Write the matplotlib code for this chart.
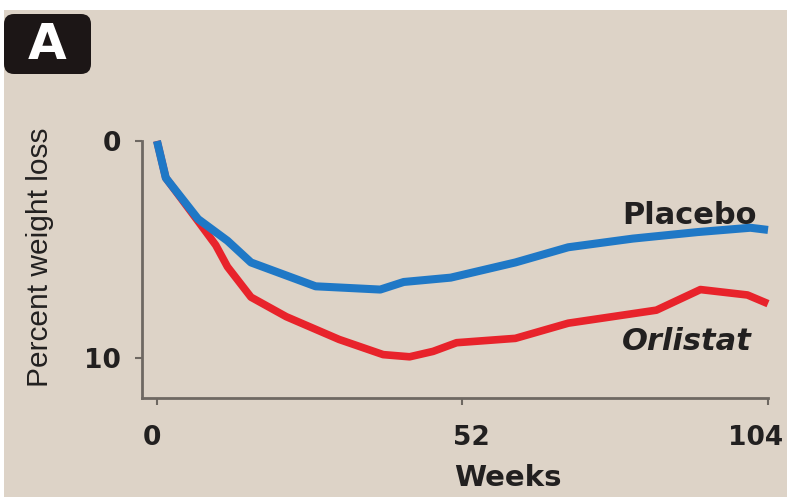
import matplotlib
matplotlib.use("Agg")
import matplotlib.pyplot as plt
from matplotlib.patches import FancyBboxPatch, Rectangle
from matplotlib.transforms import ScaledTranslation

# ---- data ----
placebo_weeks = [0, 1.5, 7, 12, 16, 21, 27, 38, 42, 50, 61, 70, 81, 92, 101, 104]
placebo_loss = [0, 1.7, 3.6, 4.6, 5.6, 6.1, 6.7, 6.85, 6.5, 6.3, 5.6, 4.9, 4.5, 4.2, 4.0, 4.1]
orlistat_weeks = [0, 1.5, 7, 10, 12, 16, 22, 31, 38.5, 43, 47, 51, 61, 70, 85, 92.5, 100.5, 104]
orlistat_loss = [0, 1.7, 3.7, 4.8, 5.8, 7.2, 8.1, 9.15, 9.85, 9.95, 9.7, 9.3, 9.1, 8.4, 7.8, 6.85, 7.1, 7.5]
x_ticks = [0, 52, 104]
y_ticks = [0, 10]

BG = "#ddd3c7"
BLUE = "#1f78c6"
RED = "#e8232b"
SPINE = "#6e6862"
TXT = "#222020"

fig = plt.figure(figsize=(7.87, 4.97), dpi=100)
fig.patch.set_facecolor("white")
# beige panel (white strip at top and left)
fig.patches.append(Rectangle((4 / 787, 0), 1 - 4 / 787, (497 - 10) / 497,
                             transform=fig.transFigure, facecolor=BG,
                             edgecolor="none", zorder=-10))

ax = fig.add_axes([142 / 787, (497 - 398) / 497, (768 - 142) / 787, (398 - 141) / 497])
ax.set_facecolor("none")

ax.plot(placebo_weeks, placebo_loss, color=BLUE, lw=5.8, solid_capstyle="butt",
        solid_joinstyle="round", clip_on=False, zorder=3)
ax.plot(orlistat_weeks, orlistat_loss, color=RED, lw=5.5, solid_capstyle="butt",
        solid_joinstyle="round", clip_on=False, zorder=2)

ax.set_xlim(-2.55, 104)
ax.set_ylim(11.85, 0)

for s in ["top", "right"]:
    ax.spines[s].set_visible(False)
for s in ["left", "bottom"]:
    ax.spines[s].set_color(SPINE)
    ax.spines[s].set_linewidth(2.0)

ax.set_xticks(x_ticks)
ax.set_yticks(y_ticks)
ax.set_xticklabels([str(v) for v in x_ticks])
ax.set_yticklabels([str(v) for v in y_ticks])
ax.tick_params(axis="both", colors=SPINE, width=1.5, length=5, labelcolor=TXT,
               labelsize=19)
ax.tick_params(axis="x", pad=14.5)
ax.tick_params(axis="y", pad=10)
for lab in ax.get_xticklabels() + ax.get_yticklabels():
    lab.set_fontweight("bold")
    lab.set_family("DejaVu Sans")

# shift x labels like the reference
xl = ax.get_xticklabels()
xl[0].set_transform(xl[0].get_transform() + ScaledTranslation(-5 / 100, 0, fig.dpi_scale_trans))
xl[1].set_transform(xl[1].get_transform() + ScaledTranslation(9 / 100, 0, fig.dpi_scale_trans))
xl[2].set_transform(xl[2].get_transform() + ScaledTranslation(-12 / 100, 0, fig.dpi_scale_trans))

# axis titles
fig.text(508 / 787, 1 - 478 / 497, "Weeks", ha="center", va="center",
         fontsize=21, fontweight="bold", color=TXT, family="DejaVu Sans")
fig.text(40 / 787, 1 - 257 / 497, "Percent weight loss", ha="center", va="center",
         rotation=90, fontsize=21.5, color=TXT, family=["Liberation Sans", "DejaVu Sans"])

# series labels
fig.text(622 / 787, 1 - 216 / 497, "Placebo", ha="left", va="center",
         fontsize=22, fontweight="bold", color=TXT, family="DejaVu Sans")
fig.text(622 / 787, 1 - 342 / 497, "Orlistat", ha="left", va="center",
         fontsize=22, fontweight="bold", style="italic", color=TXT, family="DejaVu Sans")

# panel letter
fig.patches.append(FancyBboxPatch((0.04 + 0.08, 4.23 + 0.08), 0.87 - 0.16, 0.60 - 0.16,
                                  boxstyle="round,pad=0.08,rounding_size=0.1",
                                  transform=fig.dpi_scale_trans,
                                  facecolor="#1c1616", edgecolor="none", zorder=5))
fig.text(47 / 787, 1 - 45 / 497, "A", ha="center", va="center", fontsize=36,
         fontweight="bold", color="white", family="DejaVu Sans", zorder=6)

fig.savefig("out.png", dpi=100, facecolor=fig.get_facecolor())
